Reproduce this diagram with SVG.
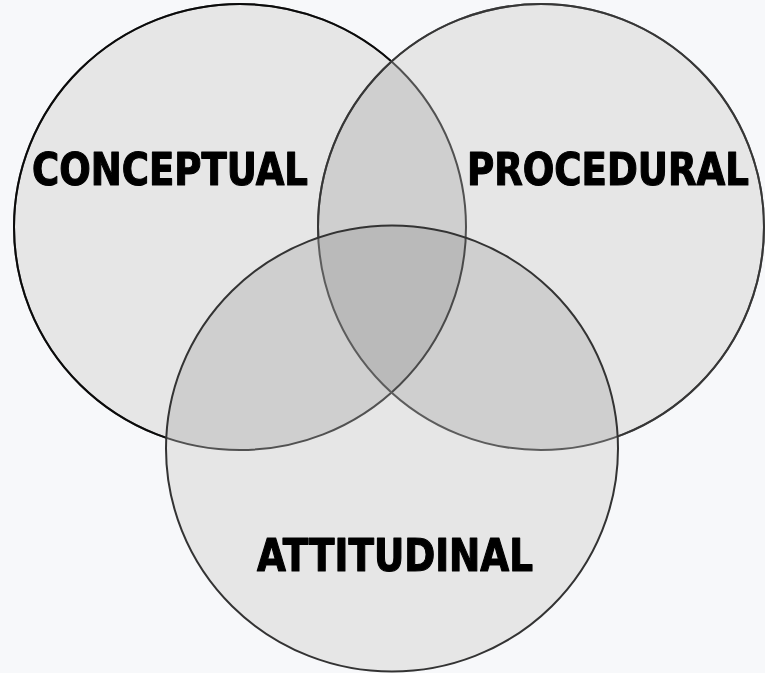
<svg xmlns="http://www.w3.org/2000/svg" width="765" height="673" viewBox="0 0 765 673">
  <style>
    .base { fill: #ffffff; stroke: none; }
    .tint { fill: #e6e6e6; stroke: none; mix-blend-mode: multiply; }
    .edge { fill: none; stroke-width: 2; }
    .label { font-family: "DejaVu Sans Condensed", "DejaVu Sans", Tahoma, sans-serif; font-weight: bold; font-size: 44px; fill: #000000; stroke: #000000; stroke-width: 1.1; stroke-linejoin: round; }
  </style>
  <defs>
    <ellipse id="shapeC" cx="240" cy="227" rx="226" ry="223"/>
    <ellipse id="shapeP" cx="541" cy="227" rx="223" ry="223"/>
    <ellipse id="shapeA" cx="392" cy="448.5" rx="226" ry="223"/>
    <!-- outside procedural and attitudinal -->
    <mask id="outsidePA" maskUnits="userSpaceOnUse" x="0" y="0" width="765" height="673">
      <rect x="0" y="0" width="765" height="673" fill="#fff"/>
      <use href="#shapeP" fill="#000"/>
      <use href="#shapeA" fill="#000"/>
    </mask>
    <!-- outside attitudinal -->
    <mask id="outsideA" maskUnits="userSpaceOnUse" x="0" y="0" width="765" height="673">
      <rect x="0" y="0" width="765" height="673" fill="#fff"/>
      <use href="#shapeA" fill="#000"/>
    </mask>
  </defs>

  <rect x="0" y="0" width="765" height="673" fill="#f7f8fa"/>

  <!-- white underlay so the tints multiply on white -->
  <g id="underlay">
    <use href="#shapeC" class="base"/>
    <use href="#shapeP" class="base"/>
    <use href="#shapeA" class="base"/>
  </g>

  <g id="conceptual">
    <use href="#shapeC" class="tint"/>
    <use href="#shapeC" class="edge" stroke="#5a5a5a"/>
    <use href="#shapeC" class="edge" stroke="#0a0a0a" mask="url(#outsidePA)"/>
    <text class="label" x="32" y="185" textLength="276" lengthAdjust="spacingAndGlyphs">CONCEPTUAL</text>
  </g>

  <g id="procedural">
    <use href="#shapeP" class="tint"/>
    <use href="#shapeP" class="edge" stroke="#666666"/>
    <use href="#shapeP" class="edge" stroke="#363636" mask="url(#outsideA)"/>
    <text class="label" x="467" y="185" textLength="282" lengthAdjust="spacingAndGlyphs">PROCEDURAL</text>
  </g>

  <g id="attitudinal">
    <use href="#shapeA" class="tint"/>
    <use href="#shapeA" class="edge" stroke="#333333"/>
    <text class="label" x="257" y="571" textLength="276" lengthAdjust="spacingAndGlyphs">ATTITUDINAL</text>
  </g>
</svg>
